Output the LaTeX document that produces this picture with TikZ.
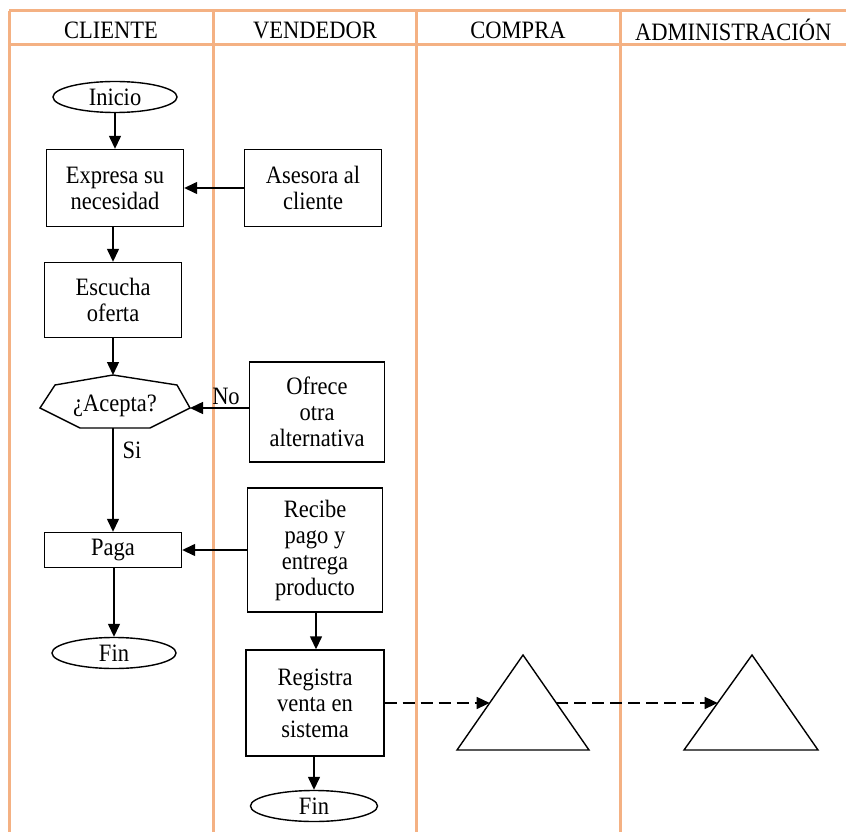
\documentclass[tikz,border=0pt]{standalone}
\usepackage{fontspec}
\setmainfont{Liberation Serif}[FakeStretch=0.9]
\usetikzlibrary{arrows.meta,shapes.geometric,calc}
\definecolor{lane}{HTML}{F4B183}
\begin{document}
\begin{tikzpicture}[x=1pt,y=-1pt,
  every node/.style={font=\fontsize{25}{26}\selectfont, align=center, inner sep=0pt},
  lanerule/.style={draw=lane, line width=3pt},
  procbox/.style={draw, line width=1.4pt, rectangle},
  terminal/.style={draw, line width=1.4pt, ellipse, minimum width=124pt, minimum height=31pt},
  flow/.style={line width=1.4pt, -{Triangle[length=13pt,width=12pt]}},
  dashflow/.style={flow, dash pattern=on 12pt off 6pt},
  shapeline/.style={line width=1.4pt, line join=miter}
]
\useasboundingbox (0,0) rectangle (846,832);

% swimlane grid
\draw[lanerule] (9,11) -- (846,11);
\draw[lanerule] (9,45) -- (846,45);
\foreach \xx in {9,213,416,620} \draw[lanerule] (\xx,11) -- (\xx,832);

% lane titles
\node (hC) at (111,30) {CLIENTE};
\node (hV) at (315,30) {VENDEDOR};
\node (hP) at (518,30) {COMPRA};
\node[anchor=west] (hA) at (635,30) {ADMINISTRACIÓN};

% client lane
\node[terminal] (inicio) at (115,97) {Inicio};
\node[procbox, minimum width=137pt, minimum height=77pt] (expresa) at (115,188) {Expresa su\\necesidad};
\node[procbox, minimum width=137pt, minimum height=75pt] (escucha) at (113,300) {Escucha\\oferta};

% decision shape
\coordinate (dL) at (40,408);
\coordinate (dTL) at (55,385);
\coordinate (dT) at (113,375);
\coordinate (dTR) at (177,385);
\coordinate (dR) at (190,408);
\coordinate (dBR) at (150,428);
\coordinate (dB) at (113,428);
\coordinate (dBL) at (80,428);
\draw[shapeline] (dL) -- (dTL) -- (dT) -- (dTR) -- (dR) -- (dBR) -- (dBL) -- cycle;
\node (acepta) at (115,406) {¿Acepta?};

\node[procbox, minimum width=137pt, minimum height=35pt] (paga) at (113,550) {Paga};
\node[terminal] (fin1) at (114,653) {Fin};

% seller lane
\node[procbox, minimum width=137pt, minimum height=77pt] (asesora) at (313,188) {Asesora al\\cliente};
\node[procbox, minimum width=135pt, minimum height=100pt] (ofrece) at (317,412) {Ofrece\\otra\\alternativa};
\node[procbox, minimum width=135pt, minimum height=124pt] (recibe) at (315,550) {Recibe\\pago y\\entrega\\producto};
\node[procbox, minimum width=138pt, minimum height=106pt] (registra) at (315,703) {Registra\\venta en\\sistema};
\node[terminal, minimum width=127pt] (fin2) at (314,806) {Fin};

% purchasing and administration records
\coordinate (t1A) at (523,655);
\coordinate (t1L) at (457,750);
\coordinate (t1R) at (589,750);
\draw[shapeline] (t1A) -- (t1R) -- (t1L) -- cycle;
\coordinate (t2A) at (752,655);
\coordinate (t2L) at (684,750);
\coordinate (t2R) at (818,750);
\draw[shapeline] (t2A) -- (t2R) -- (t2L) -- cycle;
\coordinate (t1in) at ($(t1L)!0.495!(t1A)$);
\coordinate (t1out) at ($(t1R)!0.495!(t1A)$);
\coordinate (t2in) at ($(t2L)!0.495!(t2A)$);

% connectors
\draw[flow] (inicio) -- (expresa);
\draw[flow] (asesora) -- (expresa);
\draw[flow] (expresa.south -| escucha.north) -- (escucha);
\draw[flow] (escucha) -- (dT);
\draw[flow] (ofrece.west |- dR) -- (dR);
\node (no) at (226,396) {No};
\draw[flow] (dB) -- (dB |- paga.north);
\node (si) at (132,450) {Si};
\draw[flow] (recibe) -- (paga);
\draw[flow] (paga.south -| fin1.north) -- (fin1);
\draw[flow] (recibe.south -| 316,0) -- (registra.north -| 316,0);
\draw[flow] (registra.south -| fin2.north) -- (fin2);
\draw[dashflow] (registra.east |- t1in) -- (t1in);
\draw[dashflow] (t1out) -- (t2in);
\end{tikzpicture}
\end{document}
